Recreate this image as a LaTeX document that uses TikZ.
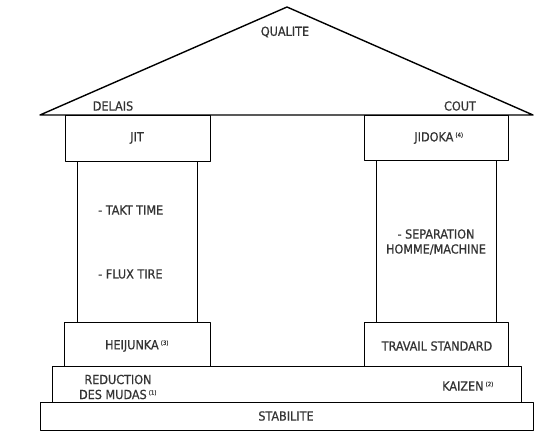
\documentclass[tikz,border=0pt]{standalone}
\usepackage{fontspec}
\setmainfont{DejaVu Sans Condensed}[FakeBold=0.6]
\begin{document}
\begin{tikzpicture}[x=1pt,y=-1pt,
  part/.style={draw=black,line width=1.4pt,line join=round,fill=white,inner sep=0pt,anchor=north west},
  lbl/.style={font=\fontsize{12.5}{15}\selectfont,text=black!80,inner sep=0pt}]
\newcommand{\ftn}[1]{\textsuperscript{\fontsize{6}{7}\selectfont(#1)}}
\useasboundingbox (0,0) rectangle (541,439);
% roof
\coordinate (apex) at (287,7);
\coordinate (rl) at (40,115);
\coordinate (rr) at (533,115);
\draw[line width=1.4pt,line join=round] (rl) -- (apex) -- (rr) -- cycle;
% left pillar
\node[part,minimum width=145pt,minimum height=46pt] (jit) at (65,115) {};
\node[part,minimum width=120pt,minimum height=161pt] (lshaft) at (77,161) {};
\node[part,minimum width=146pt,minimum height=44pt] (heij) at (64,322) {};
% right pillar
\node[part,minimum width=144pt,minimum height=45pt] (jid) at (364,115) {};
\node[part,minimum width=120pt,minimum height=162pt] (rshaft) at (376,160) {};
\node[part,minimum width=144pt,minimum height=44pt] (trav) at (364,322) {};
% base layers
\node[part,minimum width=469pt,minimum height=36pt] (red) at (52,366) {};
\node[part,minimum width=493pt,minimum height=28pt] (stab) at (40,402) {};
% texts
\node[lbl] (tq) at (285,32) {QUALITE};
\node[lbl] (td) at (113,106) {DELAIS};
\node[lbl] (tc) at (460,106) {COUT};
\node[lbl] (tjit) at (137,138) {JIT};
\node[lbl] (tjid) at (439,138) {JIDOKA\,\ftn{4}};
\node[lbl,anchor=west] (ttakt) at (98,210) {- TAKT TIME};
\node[lbl,anchor=west] (tflux) at (98,274) {- FLUX TIRE};
\node[lbl,align=center] (tsep) at (436,242) {- SEPARATION\\HOMME/MACHINE};
\node[lbl] (theij) at (137,346) {HEIJUNKA\,\ftn{3}};
\node[lbl] (ttrav) at (437,346) {TRAVAIL STANDARD};
\node[lbl,align=center] (tred) at (118,387) {REDUCTION\\DES MUDAS\,\ftn{1}};
\node[lbl] (tkai) at (468,386) {KAIZEN\,\ftn{2}};
\node[lbl] (tstab) at (286,416) {STABILITE};
\end{tikzpicture}
\end{document}
